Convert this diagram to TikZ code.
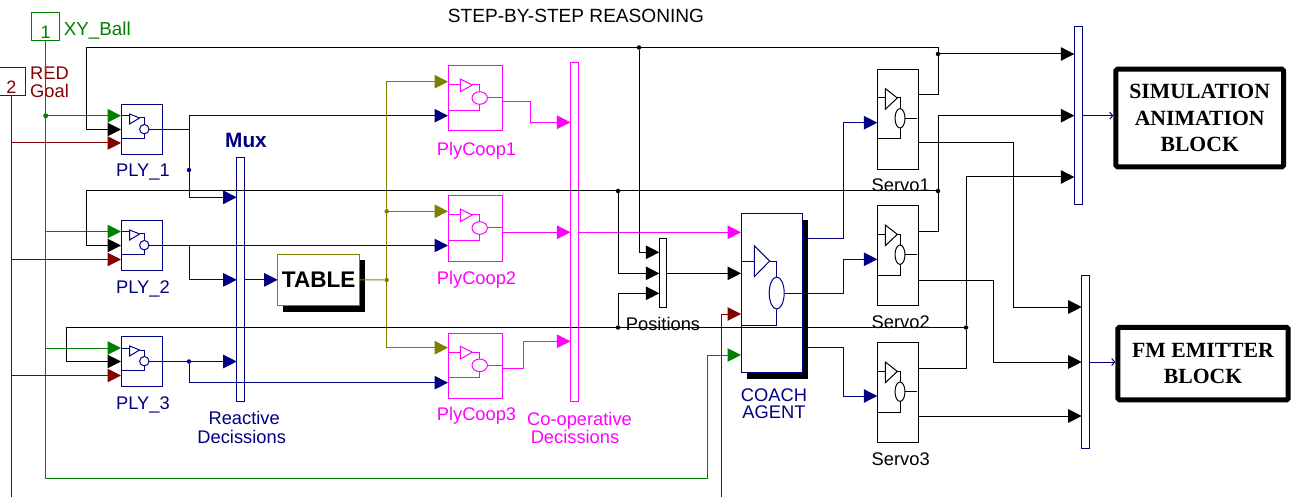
\documentclass[tikz,border=0pt]{standalone}
\usepackage{fontspec}
\setmainfont{Liberation Sans}
\newfontfamily\blockfont{Liberation Serif}
\usetikzlibrary{positioning, arrows.meta, shadows}

\definecolor{navyline}{HTML}{000080}
\definecolor{greenline}{HTML}{008000}
\definecolor{redline}{HTML}{800000}
\definecolor{oliveline}{HTML}{808000}
\definecolor{pinkline}{HTML}{FF00FF}

\tikzset{
  block/.style={draw, rectangle, fill=white, inner sep=0pt, outer sep=0pt, line width=1pt},
  muxbar/.style={block, minimum width=7.8pt},
  plyblock/.style={block, draw=navyline, minimum width=41.6pt, minimum height=49.6pt},
  coopblock/.style={block, draw=pinkline, minimum width=54.7pt, minimum height=65pt},
  servoblock/.style={block, minimum width=41.4pt, minimum height=100pt},
  portbox/.style={block, minimum width=28pt, minimum height=28pt, fill=none, font=\fontsize{18}{18}\selectfont},
  thickblock/.style={draw, rectangle, rounded corners=1.5pt, line width=5pt, align=center,
    font=\fontsize{21.7}{26.5}\selectfont\blockfont\bfseries},
  blackshadow/.style={drop shadow={shadow xshift=5.5pt, shadow yshift=-6pt, fill=black, opacity=1}},
  txt/.style={inner sep=0pt, align=center, font=\fontsize{18.3}{18.3}\selectfont},
  wire/.style={line width=1pt},
  tip/.style={wire, -{Triangle[length=13.5pt, width=13.5pt]}},
  dot/.style={circle, fill, inner sep=0pt, minimum size=4.5pt},
  pics/plysym/.style={code={
    \draw (0,11.3) -- (8.6,11.3);
    \draw (8.6,9.3) -- (8.6,19.3) -- (18.6,13.3) -- cycle;
    \draw (18.6,13.3) -- (23.3,13.3) -- (23.3,19.8);
    \draw (23.3,24.5) circle [radius=4.7];
    \draw (28,24.5) -- (41.6,24.5);
    \draw (23.3,29.2) -- (23.3,33.9) -- (0,33.9);
  }},
  pics/coopsym/.style={code={
    \draw (0,19) -- (12.3,19);
    \draw (12.3,13) -- (12.3,25.7) -- (24.3,19) -- cycle;
    \draw (24.3,19) -- (31.7,19) -- (31.7,25.7);
    \draw (31.7,32) ellipse [x radius=7.7, y radius=6.3];
    \draw (39.4,32) -- (54.7,32);
    \draw (31.7,38.3) -- (31.7,44.3) -- (0,44.3);
  }},
  pics/servosym/.style={code={
    \draw (0,28.7) -- (8,28.7);
    \draw (8,19.3) -- (8,40) -- (20,28.7) -- cycle;
    \draw (20,28.7) -- (22.7,28.7) -- (22.7,39.3);
    \draw (22.7,49) ellipse [x radius=5, y radius=9.7];
    \draw (27.7,49) -- (39.4,49);
    \draw (22.7,58.7) -- (22.7,69.4) -- (0,69.4);
  }},
  pics/coachsym/.style={code={
    \draw (0,47) -- (13.3,47);
    \draw (13.3,31.7) -- (13.3,62.7) -- (28.7,47) -- cycle;
    \draw (28.7,47) -- (35.7,47) -- (35.7,63);
    \draw (35.7,79) ellipse [x radius=7.5, y radius=16];
    \draw (43.2,79.7) -- (61.7,79.7);
    \draw (35.7,95) -- (35.7,111) -- (0,111);
  }}
}

\begin{document}
\begin{tikzpicture}[x=1pt, y=-1pt]
\useasboundingbox (0,0) rectangle (1293,497);

\node (title) [txt, font=\fontsize{19.1}{19.1}\selectfont] at (576,16) {STEP-BY-STEP REASONING};

% inputs
\node (xyball) [portbox, draw=greenline, text=greenline] at (45.7,27) {\smash{\raisebox{-12pt}{1}}};
\node (xylabel) [txt, text=greenline, right=4pt of xyball, yshift=-4pt, font=\fontsize{18.8}{18.8}\selectfont] {XY\_Ball};
\node (goal) [portbox, draw=redline, text=redline] at (11.4,82) {\smash{\raisebox{-12pt}{2}}};
\node (goallabel) [txt, text=redline, align=left, anchor=west] at (30,82) {RED\\Goal};

% player blocks
\node (ply1) [plyblock, anchor=north west] at (121,104.7) {};
\node (ply2) [plyblock, below=66.4pt of ply1] {};
\node (ply3) [plyblock, below=66.4pt of ply2] {};
\pic [navyline, line width=1pt] at (ply1.north west) {plysym};
\pic [navyline, line width=1pt] at (ply2.north west) {plysym};
\pic [navyline, line width=1pt] at (ply3.north west) {plysym};
\node (plylabel1) [txt, text=navyline] at (143,172) {PLY\_1};
\node (plylabel2) [txt, text=navyline] at (143,288.5) {PLY\_2};
\node (plylabel3) [txt, text=navyline] at (143,405) {PLY\_3};

% reactive mux and table
\node (muxreact) [muxbar, draw=navyline, minimum height=244pt, anchor=north west] at (236.7,157.7) {};
\node (muxlabel) [txt, text=navyline, font=\fontsize{20.8}{20.8}\selectfont\bfseries] at (246,140) {Mux};
\node (reactlabel) [txt, text=navyline] at (241.7,427.5) {\hspace*{5pt}Reactive\\Decissions};
\node (table) [block, draw=oliveline, blackshadow, minimum width=82pt, minimum height=51.7pt, anchor=north west,
  font=\fontsize{22.6}{22.6}\selectfont\bfseries] at (277.7,254) {TABLE};

% co-operative blocks
\node (coop1) [coopblock, anchor=north west] at (448,66) {};
\node (coop2) [coopblock, below=65pt of coop1] {};
\node (coop3) [coopblock, below=72.3pt of coop2] {};
\pic [pinkline, line width=1pt] at (coop1.north west) {coopsym};
\pic [pinkline, line width=1pt] at (coop2.north west) {coopsym};
\pic [pinkline, line width=1pt] at (coop3.north west) {coopsym};
\node (cooplabel1) [txt, text=pinkline] at (476.5,150.5) {PlyCoop1};
\node (cooplabel2) [txt, text=pinkline] at (476.5,279.5) {PlyCoop2};
\node (cooplabel3) [txt, text=pinkline] at (476.5,415.5) {PlyCoop3};
\node (muxcoop) [muxbar, draw=pinkline, minimum height=339.4pt, anchor=north west] at (570.4,62.3) {};
\node (cooplabel) [txt, text=pinkline] at (579.5,428) {Co-operative\\Decissions\hspace*{9pt}};

% coach
\node (muxpos) [muxbar, minimum width=7.4pt, minimum height=68.7pt, anchor=north west] at (659.3,239) {};
\node (poslabel) [txt] at (663,324) {Positions};
\node (coach) [block, draw=navyline, blackshadow, minimum width=61.7pt, minimum height=158.7pt, anchor=north west] at (741,214) {};
\pic [navyline, line width=1pt] at (coach.north west) {coachsym};
\node (coachlabel) [txt, text=navyline, font=\fontsize{18.3}{16.7}\selectfont] at (774,404) {COACH\\AGENT};

% servos
\node (servo1) [servoblock, anchor=north west] at (877.3,69.3) {};
\node (servo2) [servoblock, below=36.4pt of servo1] {};
\node (servo3) [servoblock, below=37pt of servo2] {};
\pic [line width=1pt] at (servo1.north west) {servosym};
\pic [line width=1pt] at (servo2.north west) {servosym};
\pic [line width=1pt] at (servo3.north west) {servosym};
\node (servolabel1) [txt] at (900.7,185.7) {Servo1};
\node (servolabel2) [txt] at (900.7,322.3) {Servo2};
\node (servolabel3) [txt] at (900.7,459.3) {Servo3};

% output side
\node (muxsim) [muxbar, draw=navyline, minimum width=8.4pt, minimum height=178.7pt, anchor=north west] at (1074.3,26.3) {};
\node (muxfm) [muxbar, draw=navyline, minimum width=7.4pt, minimum height=172.6pt, anchor=north west] at (1081.7,275.7) {};
\node (simblock) [thickblock, minimum width=167.7pt, minimum height=97.6pt] at (1199.7,118) {SIMULATION\\ANIMATION\\BLOCK};
\node (fmblock) [thickblock, minimum width=170.4pt, minimum height=72.3pt] at (1203,363.6) {FM EMITTER\\BLOCK};

% junctions
\node (xydot) [dot, fill=greenline, minimum size=5pt] at (45.7,115.7) {};
\node (ply1dot) [dot, fill=navyline] at (189,170) {};
\node (ply3dot) [dot, fill=navyline] at (ply3.east -| ply1dot) {};
\node (tabledot) [dot, fill=oliveline] at (386.7,280) {};
\node (coopdot) [dot, fill=oliveline] at (386.7,211.3) {};
\node (topdot) [dot] at (639,47.5) {};
\node (pos2dot) [dot] at (618,191) {};
\node (pos3dot) [dot] at (618,327.5) {};
\node (sim1dot) [dot] at (938,54) {};
\node (loop2dot) [dot] at (938,191) {};
\node (loop3dot) [dot] at (966,327.5) {};

% green and red inputs
\draw [wire, greenline] (xyball.south) -- (xydot);
\draw [tip, greenline] (xydot) -- (ply1.west |- xydot);
\draw [tip, greenline] (xyball.south |- 0,231.5) -- (ply2.west |- 0,231.5);
\draw [tip, greenline] (xyball.south |- 0,348) -- (ply3.west |- 0,348);
\draw [tip, greenline] (xydot) -- (45.7,478) -- (707,478) -- (707,355) -- (coach.west |- 0,355);
\draw [wire, redline] (goal.south) -- (goal.south |- 0,497);
\draw [tip, redline] (goal.south |- 0,143) -- (ply1.west |- 0,143);
\draw [tip, redline] (goal.south |- 0,259.5) -- (ply2.west |- 0,259.5);
\draw [tip, redline] (goal.south |- 0,375.5) -- (ply3.west |- 0,375.5);
\draw [tip, redline] (721,497) -- (721,314) -- (coach.west |- 0,314);

% reactive layer
\draw [wire, navyline] (ply1.east) -- (ply1.east -| ply1dot);
\draw [tip, navyline] (ply1dot) |- (coop1.west |- 0,115.7);
\draw [tip, navyline] (ply1dot) |- (muxreact.west |- 0,197.3);
\draw [tip, navyline] (ply2.east) -- (coop2.west |- ply2.east);
\draw [tip, navyline] (ply2.east -| ply1dot) |- (muxreact.west |- table.west);
\draw [tip, navyline] (muxreact.east |- table.west) -- (table.west);
\draw [tip, navyline] (ply3.east) -- (muxreact.west |- ply3.east);
\draw [tip, navyline] (ply3dot) |- (coop3.west |- 0,382.7);

% table
\draw [wire, oliveline] (table.east) -- (tabledot);
\draw [tip, oliveline] (tabledot) |- (coop1.west |- 0,81.7);
\draw [tip, oliveline] (coopdot) -- (coop2.west |- coopdot);
\draw [tip, oliveline] (tabledot) |- (coop3.west |- 0,347.7);

% co-operative layer
\draw [tip, pinkline] (coop1.east |- 0,102) -- (530,102) -- (530,122.3) -- (muxcoop.west |- 0,122.3);
\draw [tip, pinkline] (coop2.east |- 0,232.3) -- (muxcoop.west |- 0,232.3);
\draw [tip, pinkline] (coop3.east |- 0,368.3) -- (523,368.3) -- (523,341.3) -- (muxcoop.west |- 0,341.3);
\draw [tip, pinkline] (muxcoop.east |- 0,232.3) -- (coach.west |- 0,232.3);

% coach to servos
\draw [tip, navyline] (coach.east |- 0,239) -- (843,239) -- (843,122.7) -- (servo1.west |- 0,122.7);
\draw [tip, navyline] (coach.east |- 0,293.7) -- (843,293.7) -- (843,259.3) -- (servo2.west |- 0,259.3);
\draw [tip, navyline] (coach.east |- 0,347.7) -- (843,347.7) -- (843,396) -- (servo3.west |- 0,396);

% servo feedback
\draw [tip] (servo1.east |- 0,95) -- (938,95) -- (938,47.5) -- (86,47.5) -- (86,129.5) -- (ply1.west);
\draw [tip] (sim1dot) -- (muxsim.west |- sim1dot);
\draw [tip] (topdot) |- (muxpos.west |- 0,252.3);
\draw [wire] (servo2.east |- 0,232) -- (938,232) -- (loop2dot);
\draw [tip] (loop2dot) |- (muxsim.west);
\draw [tip] (loop2dot) -- (86,191) -- (86,245.5) -- (ply2.west);
\draw [tip] (pos2dot) |- (muxpos.west);
\draw [wire] (servo3.east |- 0,368) -- (966,368) -- (loop3dot);
\draw [tip] (loop3dot) |- (muxsim.west |- 0,177);
\draw [tip] (loop3dot) -- (66,327.5) -- (66,361.5) -- (ply3.west);
\draw [tip] (pos3dot) |- (muxpos.west |- 0,293.3);
\draw [tip] (muxpos.east) -- (coach.west |- muxpos.east);

% servo to emitter
\draw [tip] (servo1.east |- 0,143) -- (1013,143) -- (1013,307) -- (muxfm.west |- 0,307);
\draw [tip] (servo2.east |- 0,280) -- (993.3,280) -- (993.3,362) -- (muxfm.west |- 0,362);
\draw [tip] (servo3.east |- 0,416) -- (muxfm.west |- 0,416);

% outputs
\draw [navyline, line width=1pt, -{Straight Barb[length=3pt, width=7pt]}] (muxsim.east) -- (muxsim.east -| simblock.west);
\draw [navyline, line width=1pt, -{Straight Barb[length=3pt, width=7pt]}] (muxfm.east) -- (muxfm.east -| fmblock.west);
\end{tikzpicture}
\end{document}
